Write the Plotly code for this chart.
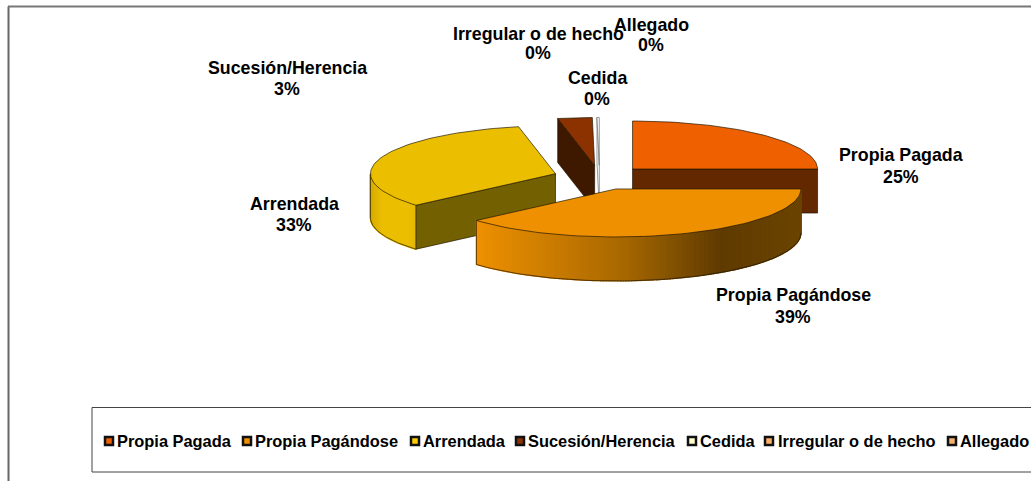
import math
import plotly.graph_objects as go

categories = ["Propia Pagada", "Propia Pagándose", "Arrendada", "Sucesión/Herencia",
              "Cedida", "Irregular o de hecho", "Allegado"]
shares = [25.0, 38.6, 33.2, 3.0, 0.2, 0.0, 0.0]

top_colors = ["#EE6000", "#EE9000", "#EBBF00", "#8C3200", "#FFFFFF", "#FFB266", "#F4B26E"]
face_colors = ["#642800", "#643C00", "#736000", "#3F1800", "#FFFFFF", "#FFB266", "#F4B26E"]
legend_colors = ["#EE6000", "#EE9000", "#FFCC00", "#8C3200", "#FFFFCC", "#FFB266", "#F4B26E"]

label_pos = [(901, 155, 177), (793, 295, 317), (294, 204, 225), (287, 68, 89),
             (597, 78, 99), (538, 34, 53), (651, 25, 45)]
legend_marker_x = [109, 247, 415, 520, 692, 769, 952]
legend_text_x = [117, 255, 423, 528, 700, 778, 960]

CX, CY, RX, RY, DEPTH, EXPL, EXPL_K = 599.6, 177.6, 185, 48, 44, 46.6, 0.26
FONT = "Liberation Sans"
EDGE = "rgba(30,20,0,0.85)"
PALE_EDGE = "#808080"

fig = go.Figure()


def poly(xs, ys, fill, line=EDGE, w=0.8):
    fig.add_trace(go.Scatter(x=xs, y=ys, mode="lines", fill="toself", fillcolor=fill,
                             line=dict(color=line, width=w), hoverinfo="skip", showlegend=False))


def hex2rgb(c):
    return tuple(int(c[i:i + 2], 16) for i in (1, 3, 5))


def ramp(stops, t):
    for (t0, c0), (t1, c1) in zip(stops, stops[1:]):
        if t <= t1:
            f = (t - t0) / (t1 - t0)
            a, b = hex2rgb(c0), hex2rgb(c1)
            return "rgb(%d,%d,%d)" % tuple(round(a[i] + (b[i] - a[i]) * f) for i in range(3))
    return stops[-1][1]


# slice geometry derived from the shares
total = sum(shares)
geom = []
acc = 0.0
for v in shares:
    a0 = acc / total * 360
    acc += v
    a1 = acc / total * 360
    mid = math.radians((a0 + a1) / 2)
    geom.append((a0, a1, CX + EXPL * math.sin(mid), CY - EXPL * EXPL_K * math.cos(mid)))


def pt(g, deg, dz=0):
    r = math.radians(deg)
    return g[2] + RX * math.sin(r), g[3] - RY * math.cos(r) + dz


def arc(g, a0, a1, dz=0, n=60):
    return [pt(g, a0 + (a1 - a0) * i / n, dz) for i in range(n + 1)]


def top(i, line=EDGE):
    g = geom[i]
    pts = [(g[2], g[3])] + arc(g, g[0], g[1]) + [(g[2], g[3])]
    poly([p[0] for p in pts], [p[1] for p in pts], top_colors[i], line)


def cut_face(i, deg, line=EDGE):
    g = geom[i]
    a, b = pt(g, deg), (g[2], g[3])
    poly([a[0], b[0], b[0], a[0], a[0]], [a[1], b[1], b[1] + DEPTH, a[1] + DEPTH, a[1]], face_colors[i], line)


def wall(i, a0, a1, stops, n=160):
    g = geom[i]
    xa, xb = pt(g, a0)[0], pt(g, a1)[0]
    lo, hi = min(xa, xb), max(xa, xb)
    for k in range(n):
        s0 = a0 + (a1 - a0) * k / n
        s1 = a0 + (a1 - a0) * (k + 1) / n
        p0, p1 = pt(g, s0), pt(g, s1)
        col = ramp(stops, (0.5 * (p0[0] + p1[0]) - lo) / (hi - lo))
        poly([p0[0], p1[0], p1[0], p0[0], p0[0]],
             [p0[1], p1[1], p1[1] + DEPTH, p0[1] + DEPTH, p0[1]], col, col, 1.2)
    low = arc(g, a0, a1, DEPTH)
    fig.add_trace(go.Scatter(x=[p[0] for p in low], y=[p[1] for p in low], mode="lines",
                             line=dict(color=EDGE, width=0.8), hoverinfo="skip", showlegend=False))
    p = pt(g, max(a0, a1))
    fig.add_trace(go.Scatter(x=[p[0], p[0]], y=[p[1], p[1] + DEPTH], mode="lines",
                             line=dict(color=EDGE, width=0.8), hoverinfo="skip", showlegend=False))


# back slices first
cut_face(3, geom[3][0])
top(3)
cut_face(4, geom[4][0], PALE_EDGE)
top(4, PALE_EDGE)

cut_face(0, geom[0][1])
top(0)

wall(2, geom[2][0], 270, [(0, "#D8AC00"), (0.25, "#EBBF00"), (0.8, "#EBBF00"), (1, "#E3B800")])
cut_face(2, geom[2][0])
top(2)

wall(1, 90, geom[1][1], [(0, "#EE9000"), (0.45, "#A86800"), (0.75, "#5F3B00"), (1, "#6B4400")])
top(1)

# data labels
for name, v, (lx, y1, y2) in zip(categories, shares, label_pos):
    for txt, yy in ((name, y1), (f"{round(v / total * 100)}%", y2)):
        fig.add_annotation(x=lx, y=yy, text=f"<b>{txt}</b>", showarrow=False, xanchor="center",
                           yanchor="middle", font=dict(family=FONT, size=17.8, color="#000000"))

# legend
for name, col, mx, tx in zip(categories, legend_colors, legend_marker_x, legend_text_x):
    fig.add_trace(go.Scatter(x=[mx], y=[441], mode="markers", hoverinfo="skip", showlegend=False,
                             marker=dict(symbol="square", size=8, color=col,
                                         line=dict(color="#111111", width=2.5))))
    fig.add_annotation(x=tx, y=441, text=f"<b>{name}</b>", showarrow=False, xanchor="left",
                       yanchor="middle", xshift=-2, font=dict(family=FONT, size=16.4, color="#000000"))

shapes = [
    dict(type="rect", x0=92, x1=1060, y0=407.5, y1=472, line=dict(color="#444444", width=1), layer="below"),
    dict(type="line", x0=8.5, x1=8.5, y0=6.5, y1=490, line=dict(color="#666666", width=2), layer="below"),
    dict(type="line", x0=8, x1=1060, y0=6.5, y1=6.5, line=dict(color="#777777", width=2), layer="below"),
]

fig.update_layout(
    width=1031, height=481, margin=dict(l=0, r=0, t=0, b=0), autosize=False,
    paper_bgcolor="#FFFFFF", plot_bgcolor="#FFFFFF", showlegend=False, shapes=shapes,
    xaxis=dict(range=[0, 1031], visible=False, fixedrange=True),
    yaxis=dict(range=[481, 0], visible=False, fixedrange=True),
)
fig.write_html("out.html", config={"displayModeBar": False},
               post_script="document.body.style.margin='0';document.documentElement.style.overflow='hidden';")
